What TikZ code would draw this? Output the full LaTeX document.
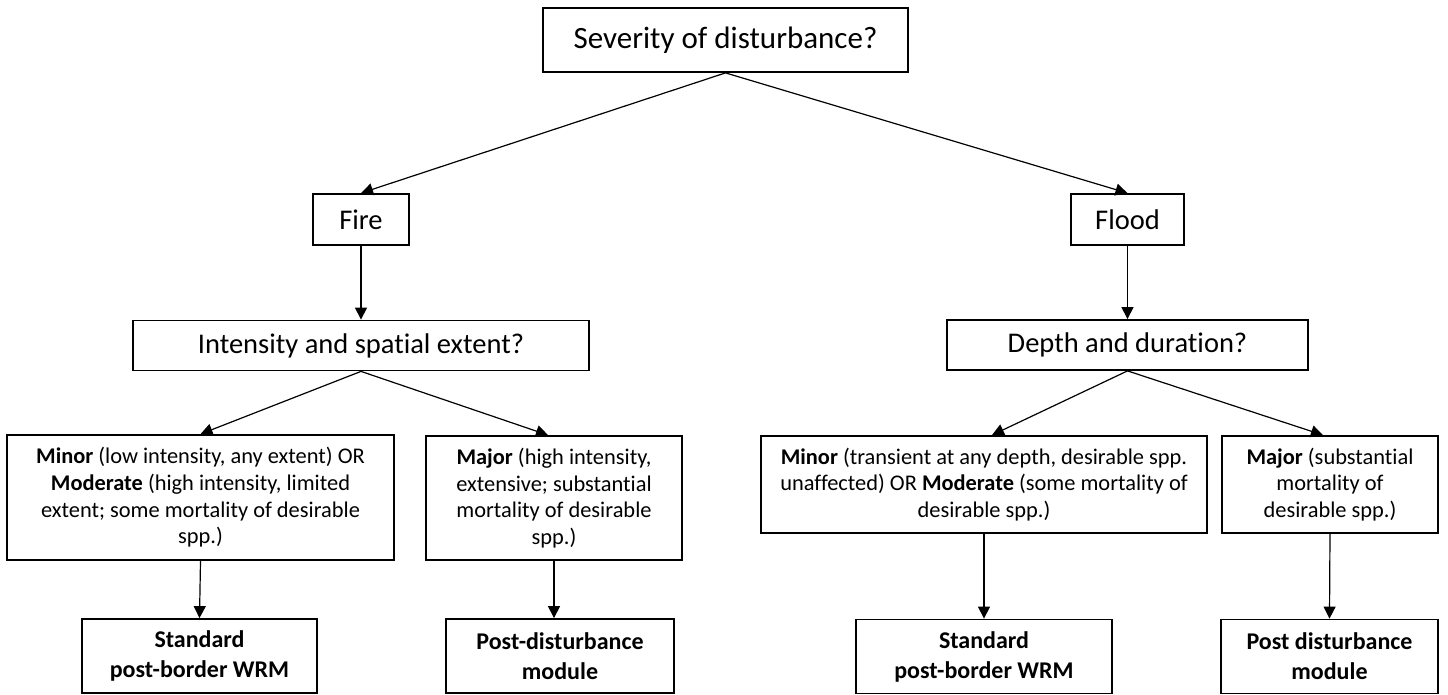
\documentclass[tikz,border=0pt]{standalone}
\usepackage{fontspec}
\setmainfont[Ligatures={NoCommon}]{Carlito}
\usepackage{tikz}
\usetikzlibrary{arrows.meta,positioning}

\begin{document}
\begin{tikzpicture}[x=0.5pt, y=-0.5pt,
  box/.style={draw, line width=0.9pt, inner sep=0pt, align=center},
  qbox/.style={box, font=\fontsize{14.25}{17}\selectfont, minimum height=25pt},
  detail/.style={box, font=\fontsize{11.2}{13.35}\selectfont},
  outcome/.style={box, font=\fontsize{12}{15}\selectfont\bfseries, minimum height=37pt},
  link/.style={line width=0.6pt, -{Triangle[length=6pt, width=6pt]}}]
\useasboundingbox (0,0) rectangle (1448,695);

\node[box, font=\fontsize{15.5}{18}\selectfont, minimum width=182.5pt, minimum height=32pt] (sev) at (725.5,40) {Severity of disturbance?};

\node[qbox, minimum width=48pt, minimum height=25.5pt] (fire) at (361,219.5) {Fire};
\node[qbox, minimum width=56.5pt, minimum height=25.5pt] (flood) at (1127.5,219.5) {Flood};

\node[qbox, minimum width=228pt] (intens) at (361,345.5) {Intensity and spatial extent?};
\node[qbox, minimum width=180.5pt] (depth) at (1127.5,345) {Depth and duration?};

\node[detail, minimum width=193.5pt, minimum height=62.5pt] (fminor) at (200.5,497.5)
  {\textbf{Minor} (low intensity, any extent) OR\\ \textbf{Moderate} (high intensity, limited\\ extent; some mortality of desirable\\ spp.)};
\node[detail, minimum width=128pt, minimum height=62pt] (fmajor) at (554,498)
  {\textbf{Major} (high intensity,\\ extensive; substantial\\ mortality of desirable\\ spp.)};
\node[detail, minimum width=223pt, minimum height=48.5pt] (wminor) at (984,484.5)
  {\textbf{Minor} (transient at any depth, desirable spp.\\ unaffected) OR \textbf{Moderate} (some mortality of\\ desirable spp.)};
\node[detail, minimum width=108pt, minimum height=48.5pt] (wmajor) at (1330,484.5)
  {\textbf{Major} (substantial\\ mortality of\\ desirable spp.)};

\node[outcome, minimum width=117.5pt] (fstd) at (199.5,656) {Standard\\ post-border WRM};
\node[outcome, minimum width=114pt] (fpost) at (560,656) {Post-disturbance\\ module};
\node[outcome, minimum width=128pt] (wstd) at (984,656.5) {Standard\\ post-border WRM};
\node[outcome, minimum width=108.5pt] (wpost) at (1329.5,656.5) {Post disturbance\\ module};

\draw[link] (sev.south) -- (fire.north);
\draw[link] (sev.south) -- (flood.north);
\draw[link] (fire.south) -- (intens.north);
\draw[link] (flood.south) -- (depth.north);
\draw[link] (intens.south) -- (fminor.north);
\draw[link] (intens.south) -- ([xshift=-3pt]fmajor.north);
\draw[link] (depth.south) -- ([xshift=4pt]wminor.north);
\draw[link] (depth.south) -- ([xshift=-3.5pt]wmajor.north);
\draw[link] (fminor.south) -- (fstd.north);
\draw[link] (fmajor.south) -- (fmajor.south |- fpost.north);
\draw[link] (wminor.south) -- (wstd.north);
\draw[link] (wmajor.south) -- (wpost.north);
\end{tikzpicture}
\end{document}
